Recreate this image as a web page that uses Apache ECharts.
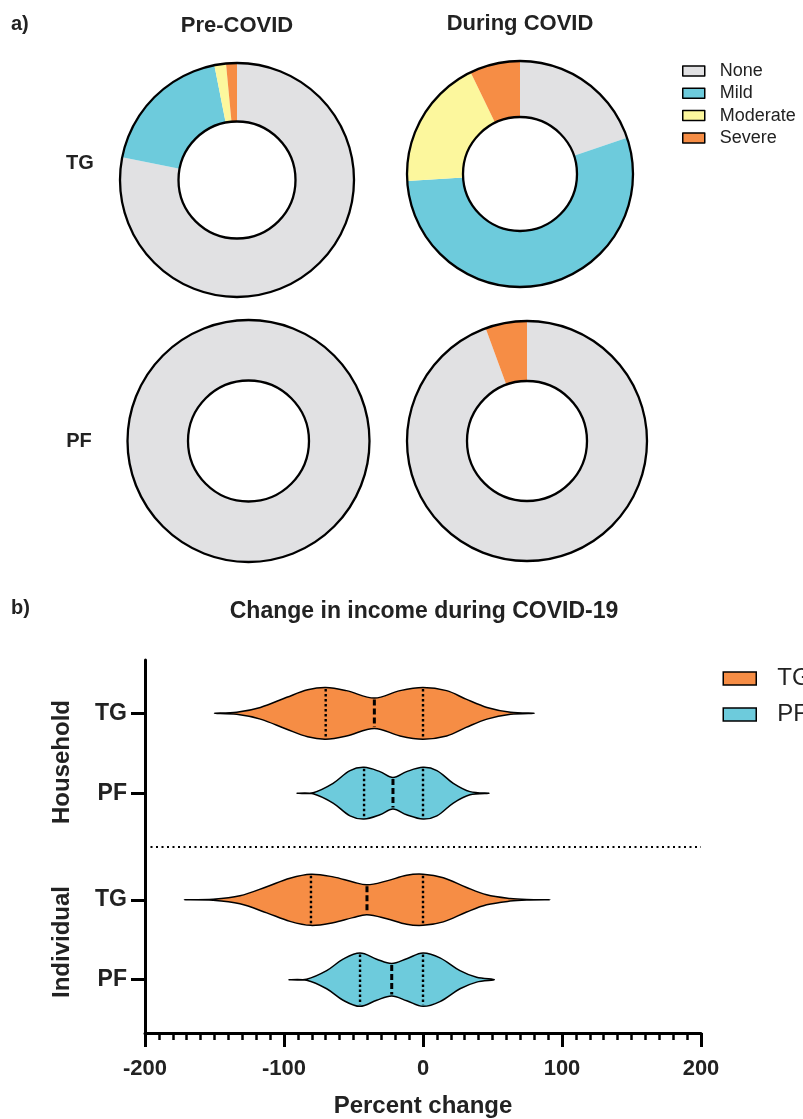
<!DOCTYPE html>
<html><head><meta charset="utf-8">
<script src="https://cdn.jsdelivr.net/npm/echarts@6/dist/echarts.min.js"></script>
<style>html,body{margin:0;padding:0;background:#fff}#c{width:803px;height:1119px}</style>
</head><body><div id="c"></div>
<script>
// ---------- data: panel a (percent of respondents) ----------
const severityLevels = ['None', 'Mild', 'Moderate', 'Severe'];
const tgPreCovid    = [78.1, 18.8, 1.6, 1.5];
const tgDuringCovid = [19.8, 54.2, 18.8, 7.2];
const pfPreCovid    = [100, 0, 0, 0];
const pfDuringCovid = [94.4, 0, 0, 5.6];

// ---------- data: panel b (violins, percent change) ----------
const violinRowLabels = ['TG', 'PF', 'TG', 'PF'];
const violinRowGroup  = ['Household', 'Household', 'Individual', 'Individual'];
const violinValues = [
  [-150, -134, -117, -98, -83, -70, -55, -35, -16.5, 0, 17, 31, 46, 63, 80],
  [-90.6, -79, -64.7, -52.5, -42.4, -31, -21.6, -11.8, 0, 10, 21.8, 33.8, 47.5],
  [-171.7, -151, -131.7, -112.4, -95.7, -80.6, -64.7, -50.4, -40.3, -26, -11.8, 0, 14.6, 31.4, 45.8, 62.6, 74.6, 91.4],
  [-96.4, -83.7, -69.3, -57.5, -45.3, -33.3, -22.5, -11.7, 0, 12.2, 26.6, 38.6, 51.3]
];
const violinDensity = [
  [0, 0.04, 0.22, 0.60, 0.88, 0.97, 0.85, 0.57, 0.85, 0.97, 0.85, 0.53, 0.22, 0.04, 0],
  [0, 0.02, 0.37, 0.85, 0.97, 0.81, 0.59, 0.81, 0.97, 0.85, 0.37, 0.06, 0],
  [0, 0.02, 0.15, 0.49, 0.81, 0.96, 0.86, 0.67, 0.56, 0.71, 0.92, 0.96, 0.83, 0.46, 0.19, 0.05, 0.01, 0],
  [0, 0.02, 0.34, 0.77, 1.0, 0.77, 0.61, 0.79, 1.0, 0.82, 0.34, 0.09, 0]
];
const violinQ1     = [-70, -42.4, -80.6, -45.3];
const violinMedian = [-35, -21.6, -40.3, -22.5];
const violinQ3     = [0, 0, 0, 0];
const xTicks = [-200, -100, 0, 100, 200];

// ---------- layout / style ----------
const rowPos = [2, 5, 9, 12];
const separatorPos = 7;
const FONT = "'Liberation Sans', Arial, Helvetica, sans-serif";
const TXT = '#222';
const severityColors = ['#E1E1E3', '#6DCBDC', '#FCF79D', '#F68D45'];
const groupColors = { TG: '#F68D45', PF: '#6DCBDC' };

function donut(values, center, radius) {
  return [{
    type: 'pie', center, radius, startAngle: 90, clockwise: true, silent: true,
    label: { show: false }, labelLine: { show: false }, emphasis: { disabled: true },
    itemStyle: { borderWidth: 0 }, animation: false,
    data: severityLevels.map((n, i) => ({ name: n, value: values[i], itemStyle: { color: severityColors[i] } }))
  }, {
    type: 'pie', center, radius, silent: true, z: 3, animation: false,
    label: { show: false }, labelLine: { show: false }, emphasis: { disabled: true },
    itemStyle: { color: 'rgba(0,0,0,0)', borderColor: '#000', borderWidth: 2.3 },
    data: [{ name: 'ring', value: 1 }]
  }];
}

function widthAt(xs, ws, x) {
  for (let k = 0; k < xs.length - 1; k++) {
    if (x >= xs[k] && x <= xs[k + 1]) {
      const t = (x - xs[k]) / (xs[k + 1] - xs[k]);
      return ws[k] + t * (ws[k + 1] - ws[k]);
    }
  }
  return 0;
}

function renderViolin(params, api) {
  const i = api.value(2), yc = api.value(1);
  const xs = violinValues[i], ws = violinDensity[i];
  const n = xs.length;
  const pts = [];
  for (let k = 0; k < n; k++) pts.push(api.coord([xs[k], yc - ws[k]]));
  for (let k = n - 2; k >= 1; k--) pts.push(api.coord([xs[k], yc + ws[k]]));
  const qline = (x, dash, lw) => {
    const w = widthAt(xs, ws, x);
    const p1 = api.coord([x, yc - w]), p2 = api.coord([x, yc + w]);
    return { type: 'line', shape: { x1: p1[0], y1: p1[1] + 1.5, x2: p2[0], y2: p2[1] - 1.5 },
      style: { stroke: '#000', lineWidth: lw, lineDash: dash } };
  };
  return { type: 'group', children: [
    { type: 'polygon', shape: { points: pts, smooth: 0.35 },
      style: { fill: api.visual('color'), stroke: '#000', lineWidth: 1.5 } },
    qline(violinQ1[i], [2.5, 2.5], 2.4),
    qline(violinMedian[i], [6, 3], 3),
    qline(violinQ3[i], [2.5, 2.5], 2.4)
  ]};
}

function violinSeries(name) {
  const data = [];
  violinRowLabels.forEach((s, i) => { if (s === name) data.push([violinMedian[i], rowPos[i], i]); });
  const s = {
    type: 'custom', name, renderItem: renderViolin, data, encode: { x: 0, y: 1 },
    itemStyle: { color: groupColors[name] }, silent: true, animation: false, z: 5
  };
  if (name === 'TG') {
    s.markLine = { silent: true, symbol: ['none', 'none'], label: { show: false }, animation: false,
      lineStyle: { color: '#000', type: [2, 3.5], width: 2 }, data: [{ yAxis: separatorPos }] };
  }
  return s;
}

const txt = (text, x, y, size, opts) => Object.assign({
  type: 'text', x, y, silent: true,
  style: Object.assign({ text, fill: TXT, font: 'bold ' + size + 'px ' + FONT, align: 'center', verticalAlign: 'middle' }, (opts && opts.style) || {})
}, opts && opts.el || {});

const chart = echarts.init(document.getElementById('c'), null, { renderer: 'canvas' });
chart.setOption({
  animation: false,
  backgroundColor: '#fff',
  legend: [{
    data: severityLevels, orient: 'vertical', left: 682, top: 62, icon: 'rect', padding: 0,
    itemWidth: 22, itemHeight: 10, itemGap: 4.3, selectedMode: false,
    itemStyle: { borderColor: '#000', borderWidth: 1.5 },
    textStyle: { fontSize: 18, fontFamily: FONT, color: TXT, lineHeight: 18, padding: [0, 0, 0, 10] }
  }, {
    data: ['TG', 'PF'], orient: 'vertical', left: 722.5, top: 666.5, icon: 'rect', padding: 0,
    itemWidth: 33, itemHeight: 13, itemGap: 12, selectedMode: false,
    itemStyle: { borderColor: '#000', borderWidth: 1.5 },
    textStyle: { fontSize: 24, fontFamily: FONT, color: TXT, lineHeight: 24, padding: [0, 0, 0, 16] }
  }],
  grid: { left: 145, right: 102, top: 660, bottom: 83, containLabel: false },
  xAxis: {
    type: 'value', min: xTicks[0], max: xTicks[xTicks.length - 1], interval: 100,
    name: 'Percent change', nameLocation: 'middle', nameGap: 61,
    nameTextStyle: { fontSize: 24, fontWeight: 'bold', fontFamily: FONT, color: TXT },
    axisLine: { show: true, onZero: false, lineStyle: { color: '#000', width: 3 } },
    axisTick: { show: true, length: 14, lineStyle: { color: '#000', width: 3 } },
    minorTick: { show: true, splitNumber: 10, length: 7, lineStyle: { color: '#000', width: 2.5 } },
    splitLine: { show: false }, minorSplitLine: { show: false },
    axisLabel: { fontSize: 22, fontWeight: 'bold', fontFamily: FONT, color: TXT, margin: 25 }
  },
  yAxis: {
    type: 'value', inverse: true, min: 0, max: 14,
    axisLine: { show: true, onZero: false, lineStyle: { color: '#000', width: 3 } },
    axisTick: { show: true, length: 14, customValues: rowPos, lineStyle: { color: '#000', width: 3 } },
    axisLabel: { customValues: rowPos, fontSize: 23, fontWeight: 'bold', fontFamily: FONT, color: TXT, margin: 18,
      formatter: v => violinRowLabels[rowPos.indexOf(v)] || '' },
    splitLine: { show: false }
  },
  graphic: [
    txt('a)', 11, 24, 20, { style: { align: 'left' } }),
    txt('Pre-COVID', 237, 26, 22),
    txt('During COVID', 520, 24, 22),
    txt('TG', 80, 163, 20),
    txt('PF', 79, 441, 20),
    txt('b)', 11, 608, 20, { style: { align: 'left' } }),
    txt('Change in income during COVID-19', 424, 612, 23),
    txt(violinRowGroup[0], 62, 762, 24, { el: { rotation: Math.PI / 2 } }),
    txt(violinRowGroup[2], 62, 942, 24, { el: { rotation: Math.PI / 2 } })
  ],
  series: [].concat(
    donut(tgPreCovid, [237, 180], [58.5, 117]),
    donut(tgDuringCovid, [520, 174], [57, 113]),
    donut(pfPreCovid, [248.5, 441], [60.5, 121]),
    donut(pfDuringCovid, [527, 441], [60, 120]),
    [violinSeries('TG'), violinSeries('PF')]
  )
});
</script></body></html>
